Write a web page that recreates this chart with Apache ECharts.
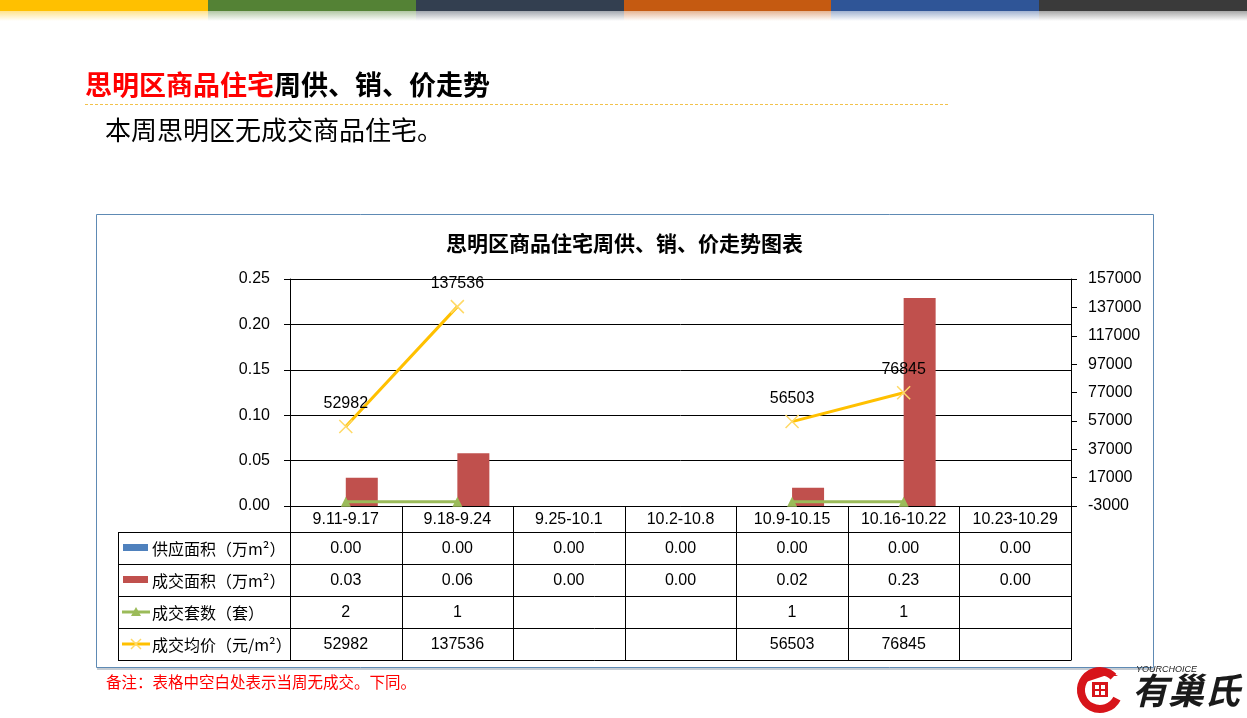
<!DOCTYPE html>
<html><head><meta charset="utf-8">
<script src="https://cdn.jsdelivr.net/npm/echarts@6/dist/echarts.min.js"></script>
<style>html,body{margin:0;padding:0;background:#fff;}#c{width:1247px;height:718px;}</style>
</head><body><div id="c"></div>
<script>
// ---- data ----
const categories = ['9.11-9.17','9.18-9.24','9.25-10.1','10.2-10.8','10.9-10.15','10.16-10.22','10.23-10.29'];
const supplyArea = [0, 0, 0, 0, 0, 0, 0];
const dealArea = [0.031, 0.058, 0, 0, 0.02, 0.229, 0];
const dealUnits = [2, 1, null, null, 1, 1, null];
const avgPrice = [52982, 137536, null, null, 56503, 76845, null];
const leftAxis = {min: 0, max: 0.25, interval: 0.05};
const rightAxis = {min: -3000, max: 157000, interval: 20000};
const seriesNames = ['供应面积（万m²）', '成交面积（万m²）', '成交套数（套）', '成交均价（元/m²）'];
const stripeColors = ['#FFC000', '#548235', '#333F50', '#C55A11', '#2F5597', '#3A3A3A'];

const NUM = "'Liberation Sans','Noto Sans CJK SC',sans-serif";
const CJK = "'Noto Sans CJK SC','Liberation Sans',sans-serif";
const chart = echarts.init(document.getElementById('c'), null, {renderer: 'canvas'});

const GRID = {left: 290, top: 279, width: 781, height: 227};
const crossPath = 'path://M0,0L10,10M10,0L0,10';

chart.setOption({
  backgroundColor: '#fff',
  animation: false,
  grid: GRID,
  xAxis: {
    type: 'category', data: categories,
    axisLine: {show: true, lineStyle: {color: '#000', width: 1}},
    axisTick: {show: false}, axisLabel: {show: false}, splitLine: {show: false}
  },
  yAxis: [{
    type: 'value', min: leftAxis.min, max: leftAxis.max, interval: leftAxis.interval,
    axisLine: {show: true, lineStyle: {color: '#000'}},
    axisTick: {show: true, length: 6, lineStyle: {color: '#000'}},
    axisLabel: {margin: 20, color: '#000', fontSize: 16, fontFamily: NUM, formatter: v => v.toFixed(2)},
    splitLine: {show: true, lineStyle: {color: '#000', width: 1}}
  }, {
    type: 'value', min: rightAxis.min, max: rightAxis.max, interval: rightAxis.interval,
    axisLine: {show: true, lineStyle: {color: '#000'}},
    axisTick: {show: true, length: 6, lineStyle: {color: '#000'}},
    axisLabel: {margin: 17, color: '#000', fontSize: 16, fontFamily: NUM, formatter: v => String(v)},
    splitLine: {show: false}
  }],
  series: [{
    name: seriesNames[0], type: 'bar', yAxisIndex: 0, data: supplyArea,
    barWidth: 32, barGap: '0%', itemStyle: {color: '#4F81BD'}
  }, {
    name: seriesNames[1], type: 'bar', yAxisIndex: 0, data: dealArea,
    barWidth: 32, barGap: '0%', itemStyle: {color: '#C0504D'}
  }, {
    name: seriesNames[2], type: 'line', yAxisIndex: 1, data: dealUnits, z: 5,
    connectNulls: false, symbol: 'triangle', symbolSize: 10,
    lineStyle: {color: '#9BBB59', width: 3}, itemStyle: {color: '#9BBB59'}
  }, {
    name: seriesNames[3], type: 'line', yAxisIndex: 1, data: avgPrice, z: 6,
    connectNulls: false, symbol: crossPath, symbolSize: 13,
    lineStyle: {color: '#FFC000', width: 3},
    itemStyle: {color: '#FFE699', borderColor: '#FFD966', borderWidth: 1.5},
    label: {show: true, position: 'top', distance: 8, color: '#000', fontSize: 16, fontFamily: NUM}
  }]
});

// ---- decorations and data table ----
const g = [];
// top stripes
const sw = 1247 / stripeColors.length;
stripeColors.forEach((c, i) => {
  const x = Math.round(i * sw), w = Math.round((i + 1) * sw) - x;
  g.push({type: 'rect', shape: {x, y: 0, width: w, height: 11}, style: {fill: c}, silent: true});
  g.push({type: 'rect', shape: {x, y: 11, width: w, height: 10},
    style: {fill: new echarts.graphic.LinearGradient(0, 0, 0, 1, [{offset: 0, color: echarts.color.modifyAlpha(c, 0.45)}, {offset: 1, color: echarts.color.modifyAlpha(c, 0)}])}, silent: true});
});
// heading
g.push({type: 'text', x: 85, y: 85, style: {
  text: '{r|思明区商品住宅}{b|周供、销、价走势}', verticalAlign: 'middle',
  rich: {r: {fill: '#FF0000', fontSize: 27, fontWeight: 'bold', fontFamily: CJK},
         b: {fill: '#000', fontSize: 27, fontWeight: 'bold', fontFamily: CJK}}}});
g.push({type: 'line', shape: {x1: 85, y1: 104.5, x2: 948, y2: 104.5},
  style: {stroke: '#F2C24B', lineWidth: 1, lineDash: [3, 2]}});
g.push({type: 'text', x: 105, y: 130, style: {text: '本周思明区无成交商品住宅。', fill: '#000',
  fontSize: 26, fontFamily: CJK, verticalAlign: 'middle'}});
// chart box
g.push({type: 'rect', shape: {x: 96.5, y: 214.5, width: 1057, height: 453},
  style: {fill: 'none', stroke: '#5E8AB4', lineWidth: 1}, z: -1});
g.push({type: 'rect', shape: {x: 97, y: 668, width: 1057, height: 2},
  style: {fill: 'rgba(90,110,130,0.35)'}, z: -1});
g.push({type: 'text', x: 624.5, y: 243, style: {text: '思明区商品住宅周供、销、价走势图表', fill: '#000',
  fontSize: 21, fontWeight: 'bold', fontFamily: CJK, align: 'center', verticalAlign: 'middle'}});
// footnote
g.push({type: 'text', x: 106, y: 682, style: {text: '备注：表格中空白处表示当周无成交。下同。', fill: '#FF0000',
  fontSize: 15.5, fontFamily: CJK, verticalAlign: 'middle'}});

// table geometry from the category axis
const c0 = chart.convertToPixel({xAxisIndex: 0}, 0);
const c1 = chart.convertToPixel({xAxisIndex: 0}, 1);
const band = c1 - c0;
const centers = categories.map((_, i) => chart.convertToPixel({xAxisIndex: 0}, i));
const bounds = [centers[0] - band / 2].concat(centers.map(c => c + band / 2));
const px = v => Math.round(v) + 0.5;
const T = {left: 118, head: 506, rows: [532, 564, 596, 628, 660]};
const tableRight = bounds[bounds.length - 1];
const L = (x1, y1, x2, y2) => g.push({type: 'line', shape: {x1, y1, x2, y2}, style: {stroke: '#000', lineWidth: 1}, silent: true});
T.rows.forEach(y => L(T.left, px(y), px(tableRight), px(y)));
L(px(T.left), T.rows[0], px(T.left), T.rows[4]);
bounds.forEach(x => L(px(x), T.head, px(x), T.rows[4]));
const txt = (x, y, s, align) => g.push({type: 'text', x, y, style: {text: s, fill: '#000', fontSize: 16,
  fontFamily: NUM, align: align || 'center', verticalAlign: 'middle'}, silent: true});
categories.forEach((c, i) => txt(centers[i], 520, c));
const rowVals = [
  supplyArea.map(v => v.toFixed(2)),
  dealArea.map(v => v.toFixed(2)),
  dealUnits.map(v => v == null ? '' : String(v)),
  avgPrice.map(v => v == null ? '' : String(v))
];
rowVals.forEach((r, ri) => {
  const yc = (T.rows[ri] + T.rows[ri + 1]) / 2 + 1;
  r.forEach((s, i) => { if (s) txt(centers[i], yc, s); });
  g.push({type: 'text', x: 152, y: yc, style: {text: seriesNames[ri], fill: '#000', fontSize: 16,
    fontFamily: CJK, verticalAlign: 'middle'}, silent: true});
});
// legend keys
const ky = ri => (T.rows[ri] + T.rows[ri + 1]) / 2;
g.push({type: 'rect', shape: {x: 123, y: ky(0) - 4, width: 25, height: 7}, style: {fill: '#4F81BD'}});
g.push({type: 'rect', shape: {x: 123, y: ky(1) - 4, width: 25, height: 7}, style: {fill: '#C0504D'}});
g.push({type: 'line', shape: {x1: 122, y1: ky(2), x2: 150, y2: ky(2)}, style: {stroke: '#9BBB59', lineWidth: 3}});
g.push({type: 'polygon', shape: {points: [[136, ky(2) - 5], [141, ky(2) + 4], [131, ky(2) + 4]]}, style: {fill: '#9BBB59'}});
g.push({type: 'line', shape: {x1: 122, y1: ky(3), x2: 150, y2: ky(3)}, style: {stroke: '#FFC000', lineWidth: 3}});
g.push({type: 'line', shape: {x1: 131, y1: ky(3) - 5, x2: 141, y2: ky(3) + 5}, style: {stroke: '#FFD966', lineWidth: 1.5}});
g.push({type: 'line', shape: {x1: 141, y1: ky(3) - 5, x2: 131, y2: ky(3) + 5}, style: {stroke: '#FFD966', lineWidth: 1.5}});

// logo
g.push({type: 'arc', shape: {cx: 1100, cy: 690, r: 19, startAngle: Math.PI * 0.15, endAngle: Math.PI * 1.75},
  style: {stroke: '#D7141A', lineWidth: 8, fill: 'none'}});
g.push({type: 'polygon', shape: {points: [[1083, 683], [1103, 668], [1118, 676], [1104, 676]]}, style: {fill: '#D7141A'}});
g.push({type: 'rect', shape: {x: 1092, y: 682, width: 16, height: 15}, style: {fill: '#D7141A'}});
g.push({type: 'rect', shape: {x: 1095, y: 685, width: 4, height: 4}, style: {fill: '#fff'}});
g.push({type: 'rect', shape: {x: 1101, y: 685, width: 4, height: 4}, style: {fill: '#fff'}});
g.push({type: 'rect', shape: {x: 1095, y: 691, width: 4, height: 4}, style: {fill: '#fff'}});
g.push({type: 'rect', shape: {x: 1101, y: 691, width: 4, height: 4}, style: {fill: '#fff'}});
g.push({type: 'text', x: 1136, y: 669, style: {text: 'YOURCHOICE', fill: '#222', fontSize: 9, fontStyle: 'italic',
  fontFamily: NUM, verticalAlign: 'middle'}});
g.push({type: 'text', x: 1132, y: 690, style: {text: '有巢氏', fill: '#1a1a1a', fontSize: 36, fontWeight: 'bold',
  fontStyle: 'italic', fontFamily: CJK, verticalAlign: 'middle'}});

chart.setOption({graphic: {elements: g}});
</script></body></html>
